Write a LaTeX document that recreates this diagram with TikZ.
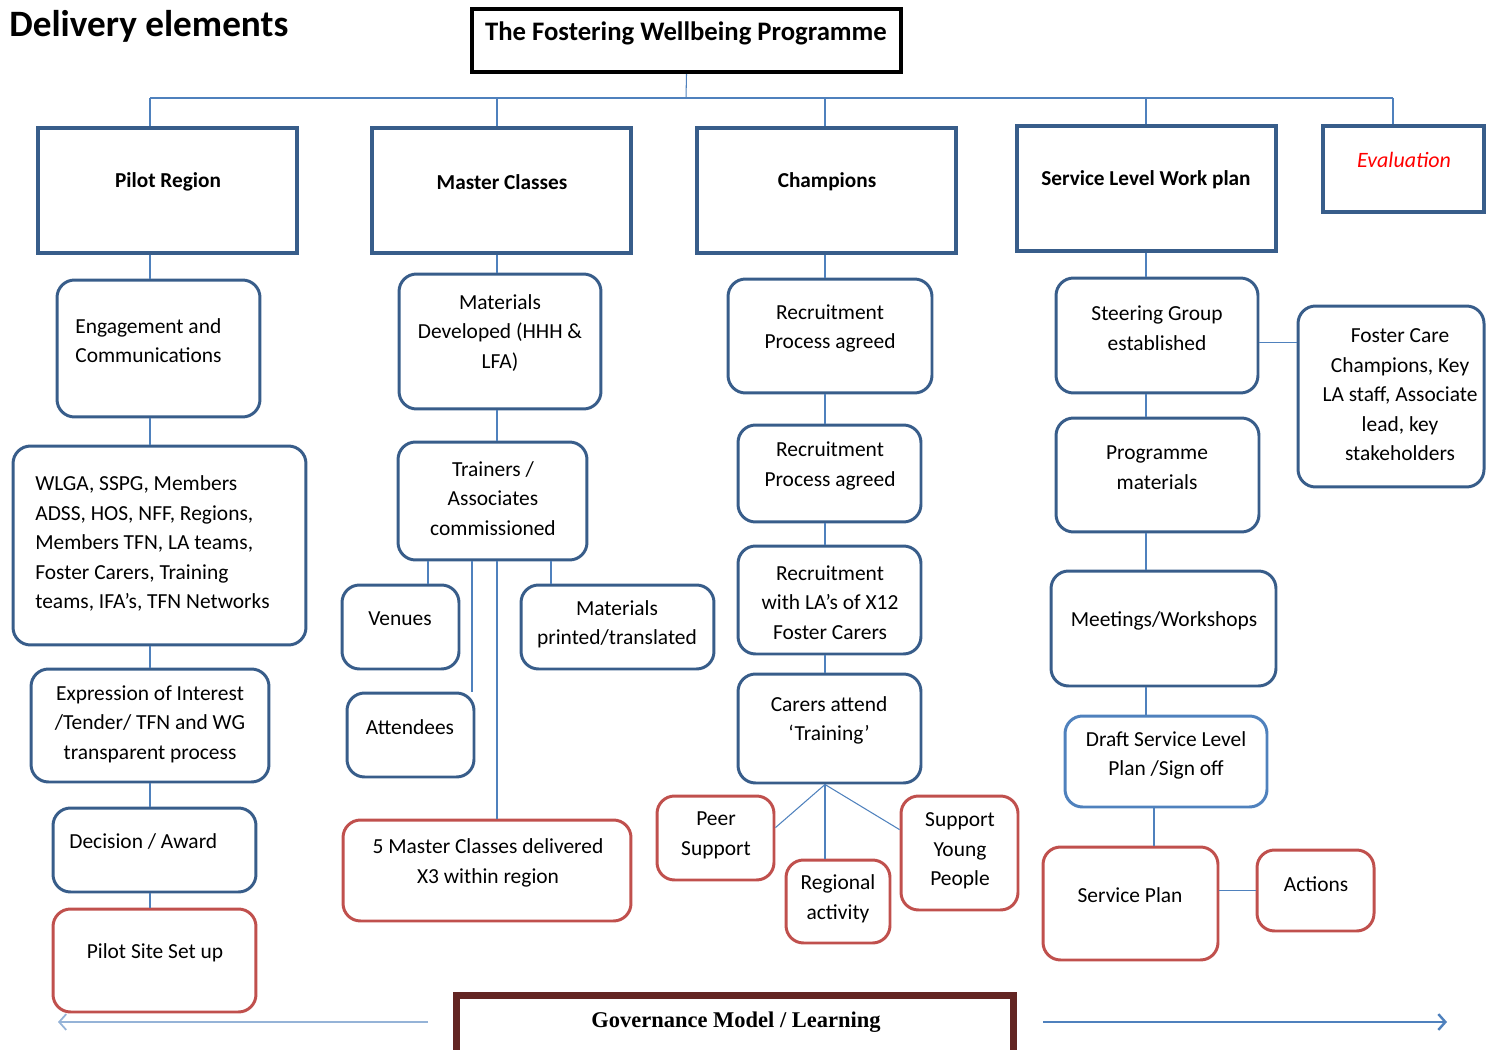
\documentclass[tikz,border=0pt]{standalone}
\usepackage{fontspec}
\setmainfont{Carlito}
\newfontfamily\govfont{Liberation Serif}
\usetikzlibrary{arrows.meta,calc}
\definecolor{hdblue}{RGB}{56,93,138}
\definecolor{boxred}{RGB}{192,80,77}
\definecolor{lnblue}{RGB}{79,129,189}
\definecolor{lightarr}{RGB}{149,179,215}
\definecolor{govred}{RGB}{99,37,35}
\begin{document}
\begin{tikzpicture}[x=0.02cm, y=-0.02cm,
    every node/.style={font=\fontsize{12.2}{16.8}\selectfont},
    sz/.style 2 args={minimum width=#1cm, minimum height=#2cm, inner sep=0pt},
    head/.style={draw=hdblue, line width=1.9pt},
    rbox/.style={draw=hdblue, line width=1.7pt, rounded corners=0.35cm},
    redbox/.style={rbox, draw=boxred},
    link/.style={lnblue, line width=0.6pt},
    txt/.style={align=center, inner sep=0pt},
    ltxt/.style={align=left, inner sep=0pt, anchor=west},
    hd/.style={txt, font=\fontsize{12.1}{16.8}\selectfont\bfseries},
    tip/.style={-{Straight Barb[length=4pt,width=9pt]}}]
    \useasboundingbox (0,0) rectangle (1486,1050);

    % title and programme box
    \node[anchor=west, inner sep=0pt, font=\fontsize{21.2}{25}\selectfont\bfseries] (ttl) at (9,26) {Delivery elements};
    \node[draw, line width=2.3pt, sz={8.58}{1.26}] (fwp) at (686.5,40.5) {};
    \node[txt, font=\fontsize{15.2}{18}\selectfont\bfseries] (fwpT) at (686,33) {The Fostering Wellbeing Programme};

    % header row
    \node[head, sz={5.18}{2.5}] (pr) at (167.5,190.5) {};
    \node[head, sz={5.18}{2.5}] (mc) at (501.5,190.5) {};
    \node[head, sz={5.18}{2.5}] (ch) at (826.5,190.5) {};
    \node[head, sz={5.18}{2.5}] (sl) at (1146.5,188.5) {};
    \node[head, sz={3.22}{1.72}] (ev) at (1403.5,169) {};
    \node[hd] (prT) at (168,182) {Pilot Region};
    \node[hd] (mcT) at (502,182) {Master Classes};
    \node[hd] (chT) at (827,182) {Champions};
    \node[hd] (slT) at (1146,180) {Service Level Work plan};
    \node[txt, text=red, font=\fontsize{12.5}{16.8}\selectfont\itshape] (evT) at (1404,160) {Evaluation};

    % pilot region column
    \node[rbox, sz={4.06}{2.74}] (eng) at (158.5,348.5) {};
    \node[rbox, sz={5.86}{3.98}] (wlga) at (159.5,545.5) {};
    \node[rbox, sz={4.76}{2.26}] (expr) at (150,725.5) {};
    \node[rbox, sz={4.06}{1.68}] (dec) at (154.5,850) {};
    \node[redbox, sz={4.06}{2.06}] (pss) at (154.5,960.5) {};
    \node[ltxt] (engT) at (75,340.5) {Engagement and\\Communications};
    \node[ltxt] (wlgaT) at (35,543.5) {WLGA, SSPG, Members\\ADSS, HOS, NFF, Regions,\\Members TFN, LA teams,\\Foster Carers, Training\\teams, IFA’s, TFN Networks};
    \node[txt] (exprT) at (150,724) {Expression of Interest\\/Tender/ TFN and WG\\transparent process};
    \node[ltxt] (decT) at (69,842) {Decision / Award};
    \node[txt] (pssT) at (155,953) {Pilot Site Set up};

    % master classes column
    \node[rbox, sz={4.04}{2.7}] (mat) at (500,341.5) {};
    \node[rbox, sz={3.78}{2.36}] (trn) at (492.5,501) {};
    \node[rbox, sz={2.34}{1.68}] (ven) at (400.5,627) {};
    \node[rbox, sz={3.86}{1.68}] (mpt) at (617.5,627) {};
    \node[rbox, sz={2.54}{1.68}] (att) at (410.5,735) {};
    \node[redbox, sz={5.76}{2.02}] (fmc) at (487,870.5) {};
    \node[txt] (matT) at (500,333) {Materials\\Developed (HHH \&\\LFA)};
    \node[txt] (trnT) at (493,498.5) {Trainers /\\Associates\\commissioned};
    \node[txt] (venT) at (400,619) {Venues};
    \node[txt] (mptT) at (617,624.5) {Materials\\printed/translated};
    \node[txt] (attT) at (410,727) {Attendees};
    \node[txt] (fmcT) at (488,863) {5 Master Classes delivered\\X3 within region};

    % champions column
    \node[rbox, sz={4.08}{2.28}] (rp1) at (830,336) {};
    \node[rbox, sz={3.66}{1.94}] (rp2) at (829.5,473.5) {};
    \node[rbox, sz={3.66}{2.16}] (rla) at (829.5,600) {};
    \node[rbox, sz={3.66}{2.18}] (cat) at (829.5,728.5) {};
    \node[redbox, sz={2.34}{1.68}] (peer) at (715.5,838) {};
    \node[redbox, sz={2.08}{1.66}] (reg) at (838,901.5) {};
    \node[redbox, sz={2.34}{2.28}] (syp) at (959.5,853) {};
    \node[txt] (rp1T) at (830,328.5) {Recruitment\\Process agreed};
    \node[txt] (rp2T) at (830,466) {Recruitment\\Process agreed};
    \node[txt] (rlaT) at (830,602.5) {Recruitment\\with LA’s of X12\\Foster Carers};
    \node[txt] (catT) at (829,720.5) {Carers attend\\‘Training’};
    \node[txt] (peerT) at (716,835.5) {Peer\\Support};
    \node[txt] (regT) at (838,899) {Regional\\activity};
    \node[txt] (sypT) at (960,851) {Support\\Young\\People};

    % service level column
    \node[rbox, sz={4.04}{2.3}] (stg) at (1157,335.5) {};
    \node[rbox, sz={3.72}{3.62}] (fcc) at (1391,396.5) {};
    \node[rbox, sz={4.06}{2.28}] (prg) at (1157.5,475) {};
    \node[rbox, sz={4.5}{2.3}] (mtg) at (1163.5,628.5) {};
    \node[rbox, draw=lnblue, sz={4.04}{1.82}] (dft) at (1166,761.5) {};
    \node[redbox, sz={3.5}{2.26}] (spl) at (1130.5,903.5) {};
    \node[redbox, sz={2.34}{1.62}] (act) at (1315.5,890.5) {};
    \node[txt] (stgT) at (1157,328) {Steering Group\\established};
    \node[txt] (fccT) at (1400,395) {Foster Care\\Champions, Key\\LA staff, Associate\\lead, key\\stakeholders};
    \node[txt] (prgT) at (1157,467.5) {Programme\\materials};
    \node[txt] (mtgT) at (1164,621) {Meetings/Workshops};
    \node[txt] (dftT) at (1166,755.5) {Draft Service Level\\Plan /Sign off};
    \node[txt] (splT) at (1130,895) {Service Plan};
    \node[txt] (actT) at (1316,884) {Actions};

    % connectors
    \coordinate (bus) at (686,98);
    \coordinate (b1) at (150,98);
    \coordinate (b2) at (497,98);
    \coordinate (b3) at (825,98);
    \coordinate (b4) at (1146,98);
    \coordinate (b5) at (1393,98);
    \draw[link] (fwp.south) -- (bus);
    \draw[link] (b1) -- (b5);
    \foreach \b/\n in {b1/pr, b2/mc, b3/ch, b4/sl, b5/ev}
        \draw[link] (\b) -- (\b |- \n.north);

    \foreach \u/\v in {pr/eng, eng/wlga, wlga/expr, expr/dec, dec/pss}
        \draw[link] (b1 |- \u.south) -- (b1 |- \v.north);

    \foreach \u/\v in {mc/mat, mat/trn, trn/fmc}
        \draw[link] (b2 |- \u.south) -- (b2 |- \v.north);
    \coordinate (xv) at (428,0);
    \coordinate (xa) at (472,0);
    \coordinate (xm) at (551,0);
    \draw[link] (xv |- trn.south) -- (xv |- ven.north);
    \draw[link] (xa |- trn.south) -- (xa |- att.north);
    \draw[link] (xm |- trn.south) -- (xm |- mpt.north);

    \foreach \u/\v in {ch/rp1, rp1/rp2, rp2/rla, rla/cat}
        \draw[link] (b3 |- \u.south) -- (b3 |- \v.north);
    \coordinate (fan) at (b3 |- cat.south);
    \draw[link] (fan) -- ($(peer.north east)!0.38!(peer.south east)$);
    \draw[link] (fan) -- (b3 |- reg.north);
    \draw[link] (fan) -- ($(syp.north west)!0.3!(syp.south west)$);

    \foreach \u/\v in {sl/stg, stg/prg, prg/mtg, mtg/dft}
        \draw[link] (b4 |- \u.south) -- (b4 |- \v.north);
    \coordinate (xs) at (1154,0);
    \draw[link] (xs |- dft.south) -- (xs |- spl.north);
    \coordinate (sgc) at ([yshift=-0.14cm]stg.east);
    \draw[link] (sgc) -- (sgc -| fcc.west);
    \draw[link] (act.west -| spl.east) -- (act.west);

    % governance bar
    \node[draw=govred, line width=4pt, sz={11.16}{1.4}] (gov) at (735,1030) {};
    \node[txt, font=\govfont\bfseries\fontsize{12.8}{15}\selectfont] (govT) at (736,1022) {Governance Model / Learning};
    \coordinate (gl) at (428,1022);
    \coordinate (gle) at (58,1022);
    \coordinate (gr) at (1043,1022);
    \coordinate (gre) at (1447,1022);
    \draw[lightarr, line width=1pt, tip] (gl) -- (gle);
    \draw[lnblue, line width=1.4pt, tip] (gr) -- (gre);
\end{tikzpicture}
\end{document}
